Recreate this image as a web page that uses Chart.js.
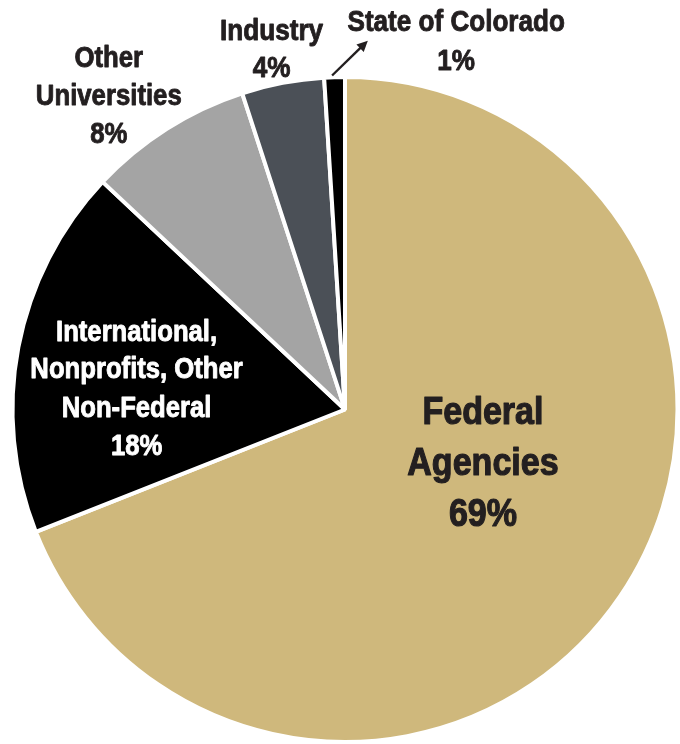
<!DOCTYPE html>
<html>
<head>
<meta charset="utf-8">
<script src="https://cdn.jsdelivr.net/npm/chart.js@4"></script>
<style>
html,body{margin:0;padding:0;background:#fff;}
#wrap{width:680px;height:744px;position:relative;}
</style>
</head>
<body>
<div id="wrap"><canvas id="c" width="680" height="744"></canvas></div>
<script>
// ---- data ----
const categories = ["Federal Agencies", "International, Nonprofits, Other Non-Federal", "Other Universities", "Industry", "State of Colorado"];
const shares = [69, 18, 8, 4, 1];
const labelLines = [
  ["Federal", "Agencies", "69%"],
  ["International,", "Nonprofits, Other", "Non-Federal", "18%"],
  ["Other", "Universities", "8%"],
  ["Industry", "4%"],
  ["State of Colorado", "1%"]
];

// ---- styling / layout ----
const sliceColors = ["#CFB87C", "#000000", "#A4A4A4", "#4B5057", "#000000"];
const FONT = '"Liberation Sans", Arial, sans-serif';
// offsets (px at reference radius 335) from pie centre: x centre, baselines; fitLine/fitWidth give the condensed width
const labelLayout = [
  {dx: 139, dys: [14.5, 65.5, 117.5], size: 39, color: "#231F20", fitLine: 0, fitWidth: 122},
  {dx: -210, dys: [-69.5, -31.5, 7.5, 45.5], size: 29, color: "#FFFFFF", fitLine: 1, fitWidth: 214},
  {dx: -238, dys: [-345.5, -306.5, -268.5], size: 29, color: "#231F20", fitLine: 1, fitWidth: 147},
  {dx: -74, dys: [-372.5, -334.5], size: 29, color: "#231F20", fitLine: 0, fitWidth: 104},
  {dx: 112, dys: [-381.5, -342.5], size: 29, color: "#231F20", fitLine: 0, fitWidth: 219}
];
const arrowLayout = {from: [-13, -336.5], to: [23, -371.5]};

const labelPlugin = {
  id: 'pieLabels',
  afterDatasetsDraw(chart) {
    const ctx = chart.ctx;
    const meta = chart.getDatasetMeta(0);
    const arc0 = meta.data[0];
    const cx = arc0.x, cy = arc0.y, r = arc0.outerRadius;
    const k = r / 335;
    ctx.save();
    ctx.textAlign = 'center';
    ctx.textBaseline = 'alphabetic';
    ctx.lineJoin = 'round';
    labelLayout.forEach((L, i) => {
      ctx.fillStyle = L.color;
      ctx.strokeStyle = L.color;
      ctx.lineWidth = L.size > 35 ? 1.2 : 0.9;
      ctx.font = 'bold ' + Math.round(L.size * k) + 'px ' + FONT;
      const w = ctx.measureText(labelLines[i][L.fitLine]).width;
      const sx = (L.fitWidth * k) / w;
      labelLines[i].forEach((line, j) => {
        ctx.save();
        ctx.translate(cx + L.dx * k, cy + L.dys[j] * k);
        ctx.scale(sx, 1);
        ctx.fillText(line, 0, 0);
        ctx.strokeText(line, 0, 0);
        ctx.restore();
      });
    });
    // arrow
    const x1 = cx + arrowLayout.from[0] * k, y1 = cy + arrowLayout.from[1] * k;
    const x2 = cx + arrowLayout.to[0] * k, y2 = cy + arrowLayout.to[1] * k;
    const ang = Math.atan2(y2 - y1, x2 - x1);
    const head = 12;
    ctx.strokeStyle = "#231F20";
    ctx.fillStyle = "#231F20";
    ctx.lineWidth = 2.4;
    ctx.beginPath();
    ctx.moveTo(x1, y1);
    ctx.lineTo(x2 - Math.cos(ang) * head * 0.8, y2 - Math.sin(ang) * head * 0.8);
    ctx.stroke();
    ctx.beginPath();
    ctx.moveTo(x2, y2);
    ctx.lineTo(x2 - head * Math.cos(ang - 0.45), y2 - head * Math.sin(ang - 0.45));
    ctx.lineTo(x2 - head * Math.cos(ang + 0.45), y2 - head * Math.sin(ang + 0.45));
    ctx.closePath();
    ctx.fill();
    ctx.restore();
  }
};

new Chart(document.getElementById('c'), {
  type: 'pie',
  data: {
    labels: categories,
    datasets: [{
      data: shares,
      backgroundColor: sliceColors,
      borderColor: '#FFFFFF',
      borderWidth: 4
    }]
  },
  options: {
    responsive: false,
    animation: false,
    layout: {padding: {left: 10, right: 0, top: 75, bottom: -1}},
    plugins: {legend: {display: false}, tooltip: {enabled: false}}
  },
  plugins: [labelPlugin]
});
</script>
</body>
</html>
